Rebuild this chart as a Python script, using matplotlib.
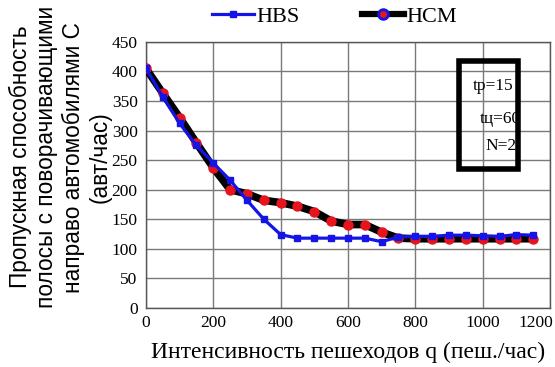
import matplotlib
matplotlib.use("Agg")
import matplotlib.pyplot as plt
from matplotlib.patches import Rectangle
from matplotlib.lines import Line2D
import matplotlib.transforms as mtransforms

q = [0, 50, 100, 150, 200, 250, 300, 350, 400, 450, 500, 550, 600, 650,
     700, 750, 800, 850, 900, 950, 1000, 1050, 1100, 1150]
hbs = [405, 357, 312, 275, 245, 216, 182, 150, 124, 118, 118, 118, 118, 118,
       112, 120, 121, 121, 123, 123, 122, 121, 124, 123]
hcm = [405, 363, 322, 279, 237, 200, 193, 182, 178, 172, 163, 147, 141, 141,
       128, 118, 117, 117, 117, 117, 117, 117, 117, 117]
x_ticks = [0, 200, 400, 600, 800, 1000, 1200]
y_ticks = [0, 50, 100, 150, 200, 250, 300, 350, 400, 450]
params = ["tр=15", "tц=60", "N=2"]

serif = ["Liberation Serif", "DejaVu Serif"]
sans = ["Liberation Sans", "DejaVu Sans"]
plt.rcParams["font.family"] = serif

fig = plt.figure(figsize=(5.55, 3.67), dpi=100)
ax = fig.add_axes([0.263, 0.161, 0.728, 0.725])

ax.plot(q, hcm, color="black", lw=5.5, marker="o", ms=6.5,
        mfc="#e8141c", mec="#e8141c", zorder=3)
ax.plot(q, hbs, color="#1414e6", lw=2.3, marker="s", ms=4.5,
        mfc="#1414e6", mec="#1414e6", zorder=4)

ax.set_xlim(0, 1200)
ax.set_ylim(0, 450)
ax.set_xticks(x_ticks)
ax.set_yticks(y_ticks)
ax.set_yticklabels([str(v) for v in y_ticks], family=serif)
ax.set_xticklabels([])
ax.grid(True, color="#7a7a7a", lw=1.0)
ax.set_axisbelow(True)
ax.tick_params(length=0, labelsize=12.5)
ax.tick_params(axis="y", pad=6)

# x tick labels drawn as texts at tick positions
tr = ax.get_xaxis_transform()
for i, v in enumerate(x_ticks):
    if i == len(x_ticks) - 1:
        t = tr + mtransforms.ScaledTranslation(3 / 100, 0, fig.dpi_scale_trans)
        ax.text(v, -0.025, str(v), transform=t, ha="right", va="top",
                fontsize=12.5, family=serif, clip_on=False)
    else:
        ax.text(v, -0.025, str(v), transform=tr, ha="center", va="top",
                fontsize=12.5, family=serif, clip_on=False)

for s in ax.spines.values():
    s.set_color("#555555")
    s.set_linewidth(1.0)

ax.set_xlabel("Интенсивность пешеходов q (пеш./час)", fontsize=17, labelpad=21)

fig.text(0.108, 0.572,
         "Пропускная способность\nполосы с поворачивающими\nнаправо автомобилями С\n(авт/час)",
         rotation=90, ha="center", va="center", multialignment="center",
         family=sans, fontsize=16.3, linespacing=1.2)

# parameter box
ax.add_patch(Rectangle((930, 235), 175, 183, fill=False, lw=4,
                       edgecolor="black", zorder=5))
ax.text(970, 376, params[0], fontsize=12.5, va="center", zorder=6)
ax.text(990, 320, params[1], fontsize=12.5, va="center", zorder=6)
ax.text(1008, 274, params[2], fontsize=12.5, va="center", zorder=6)

h_hbs = Line2D([], [], color="#1414e6", lw=2.3, marker="s", ms=5,
               mfc="#1414e6", mec="#1414e6")
h_hcm = Line2D([], [], color="black", lw=4.5, marker="o", ms=7,
               mfc="#e8141c", mec="#1414e6", mew=2)
fig.legend([h_hbs, h_hcm], ["HBS", "HCM"], loc="center",
           bbox_to_anchor=(0.603, 0.955), ncol=2, frameon=False,
           prop={"family": serif, "size": 16}, handlelength=1.9,
           handletextpad=0.1, columnspacing=2.8)

fig.savefig("out.png", dpi=100)
